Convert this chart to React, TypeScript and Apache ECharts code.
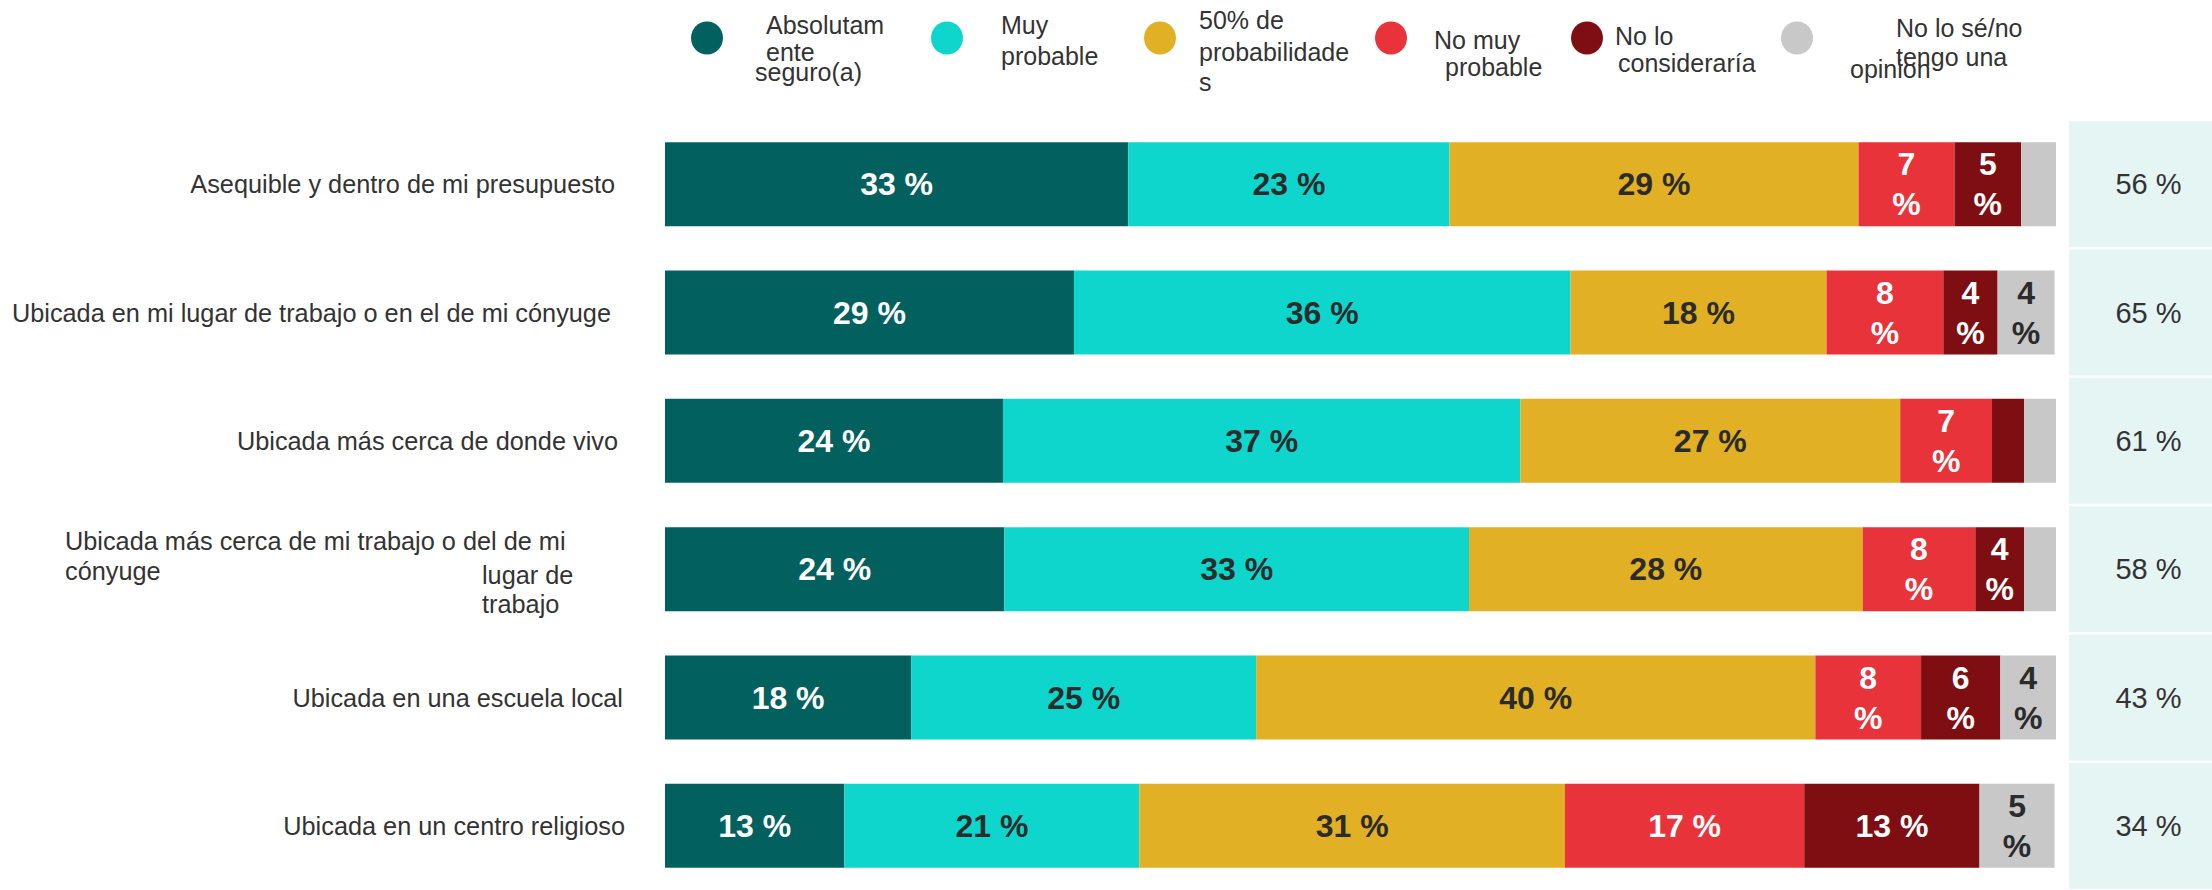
import React, { useEffect, useRef } from "react";
import * as echarts from "echarts";

const categories = [
  "Asequible y dentro de mi presupuesto",
  "Ubicada en mi lugar de trabajo o en el de mi cónyuge",
  "Ubicada más cerca de donde vivo",
  "Ubicada más cerca de mi trabajo o del de mi cónyuge",
  "Ubicada en una escuela local",
  "Ubicada en un centro religioso",
];

const seriesNames = [
  "Absolutamente seguro(a)",
  "Muy probable",
  "50% de probabilidades",
  "No muy probable",
  "No lo consideraría",
  "No lo sé/no tengo una opinión",
];

const absolutamente = [33.3, 29.4, 24.3, 24.4, 17.7, 12.9];
const muyProbable = [23.1, 35.7, 37.2, 33.4, 24.8, 21.2];
const cincuenta = [29.4, 18.4, 27.3, 28.3, 40.2, 30.6];
const noMuy = [6.9, 8.4, 6.6, 8.1, 7.6, 17.2];
const noConsideraria = [4.8, 3.9, 2.3, 3.5, 5.7, 12.6];
const noSe = [2.5, 4.1, 2.3, 2.3, 4.0, 5.4];
const top2Box = [56, 65, 61, 58, 43, 34];

const colors = ["#02605E", "#0FD6CD", "#E1B024", "#E8333A", "#7E0E12", "#C8C8C8"];
const labelColors = ["#FFFFFF", "#2B2B2B", "#2B2B2B", "#FFFFFF", "#FFFFFF", "#2B2B2B"];

// legend text exactly as laid out in the picture
const legendLines: string[][] = [
  ["Absolutam", "ente", "seguro(a)"],
  ["Muy", "probable"],
  ["50% de", "probabilidade", "s"],
  ["No muy", "probable"],
  ["No lo", "consideraría"],
  ["No lo sé/no", "tengo una", "opinion"],
];
const row4Lines = ["Ubicada más cerca de mi trabajo o del de mi", "cónyuge"];
const strayLines = ["lugar de", "trabajo"];

const FONT = "'Liberation Sans', Arial, Helvetica, sans-serif";
const TEXT = "#333333";
// per-row right padding of the category labels (layout only)
const labelPadRight = [10, 14, 7, 0, 2, 0];

export default function App() {
  const ref = useRef<HTMLDivElement>(null);

  useEffect(() => {
    if (!ref.current) return;
    const chart = echarts.init(ref.current, null, { renderer: "svg" });
    const values = [absolutamente, muyProbable, cincuenta, noMuy, noConsideraria, noSe];

    const legendCircles = [
      [707, 38],
      [947, 38],
      [1160, 38],
      [1391, 38],
      [1587, 38],
      [1797, 38],
    ];
    const legendTextPos: number[][][] = [
      [[766, 25], [766, 52], [755, 72]],
      [[1001, 25], [1001, 56]],
      [[1199, 20], [1199, 52], [1199, 82]],
      [[1434, 40], [1445, 67]],
      [[1615, 36], [1618, 63]],
      [[1896, 28], [1896, 57], [1850, 69]],
    ];

    const graphics: any[] = [];
    legendCircles.forEach(([cx, cy], i) => {
      graphics.push({
        type: "ellipse",
        shape: { cx, cy, rx: 16, ry: 16.5 },
        style: { fill: colors[i] },
        silent: true,
      });
      legendLines[i].forEach((t, j) => {
        graphics.push({
          type: "text",
          x: legendTextPos[i][j][0],
          y: legendTextPos[i][j][1],
          style: {
            text: t,
            fill: TEXT,
            font: `25px ${FONT}`,
            align: "left",
            verticalAlign: "middle",
          },
          silent: true,
        });
      });
    });
    const row4Pos = [[65, 541], [65, 571]];
    row4Lines.forEach((t, j) => {
      graphics.push({
        type: "text",
        x: row4Pos[j][0],
        y: row4Pos[j][1],
        style: { text: t, fill: TEXT, font: `25.3px ${FONT}`, align: "left", verticalAlign: "middle" },
        silent: true,
      });
    });
    const strayPos = [[482, 575], [482, 604]];
    strayLines.forEach((t, j) => {
      graphics.push({
        type: "text",
        x: strayPos[j][0],
        y: strayPos[j][1],
        style: { text: t, fill: TEXT, font: `25.3px ${FONT}`, align: "left", verticalAlign: "middle" },
        silent: true,
      });
    });

    const barSeries = values.map((arr, si) => ({
      name: seriesNames[si],
      type: "bar",
      stack: "total",
      xAxisIndex: 0,
      yAxisIndex: 0,
      barWidth: 84,
      data: arr,
      itemStyle: { color: colors[si] },
      label: {
        show: true,
        position: "inside",
        color: labelColors[si],
        fontFamily: FONT,
        fontWeight: "bold",
        fontSize: 32,
        lineHeight: 40,
        formatter: (p: any) => {
          const v = p.value as number;
          if (v < 3) return "";
          const r = Math.round(v);
          return v < 10 ? `${r}\n%` : `${r} %`;
        },
      },
    }));

    const rich: any = {};
    labelPadRight.forEach((pr, i) => {
      rich[`p${i}`] = {
        fontSize: 25.3,
        color: TEXT,
        fontFamily: FONT,
        padding: [0, pr, 0, 0],
      };
    });

    const option: any = {
      animation: false,
      backgroundColor: "#FFFFFF",
      textStyle: { fontFamily: FONT },
      grid: [
        { left: 665, width: 1391, top: 120, height: 776, containLabel: false },
        { left: 2069, width: 156, top: 120, height: 776, containLabel: false },
      ],
      xAxis: [
        { type: "value", gridIndex: 0, min: 0, max: 100, show: false },
        { type: "value", gridIndex: 1, min: 0, max: 1, show: false },
      ],
      yAxis: [
        {
          type: "category",
          gridIndex: 0,
          inverse: true,
          data: categories,
          axisLine: { show: false },
          axisTick: { show: false },
          splitLine: { show: false },
          axisLabel: {
            margin: 40,
            fontSize: 25.3,
            color: TEXT,
            fontFamily: FONT,
            formatter: (v: string, i: number) => (i === 3 ? "" : `{p${i}|${v}}`),
            rich,
          },
        },
        {
          type: "category",
          gridIndex: 1,
          inverse: true,
          data: categories,
          show: false,
        },
      ],
      series: [
        ...barSeries,
        {
          name: "Top 2",
          type: "bar",
          xAxisIndex: 1,
          yAxisIndex: 1,
          barWidth: 126,
          data: top2Box.map(() => 1),
          itemStyle: { color: "#E5F5F4" },
          label: {
            show: true,
            position: "inside",
            offset: [8, 0],
            color: TEXT,
            fontFamily: FONT,
            fontSize: 29,
            formatter: (p: any) => `${top2Box[p.dataIndex]} %`,
          },
        },
      ],
      graphic: graphics,
    };

    chart.setOption(option);
    return () => chart.dispose();
  }, []);

  return (
    <div
      ref={ref}
      style={{ position: "absolute", left: 0, top: 0, width: 2212, height: 890 }}
    />
  );
}
